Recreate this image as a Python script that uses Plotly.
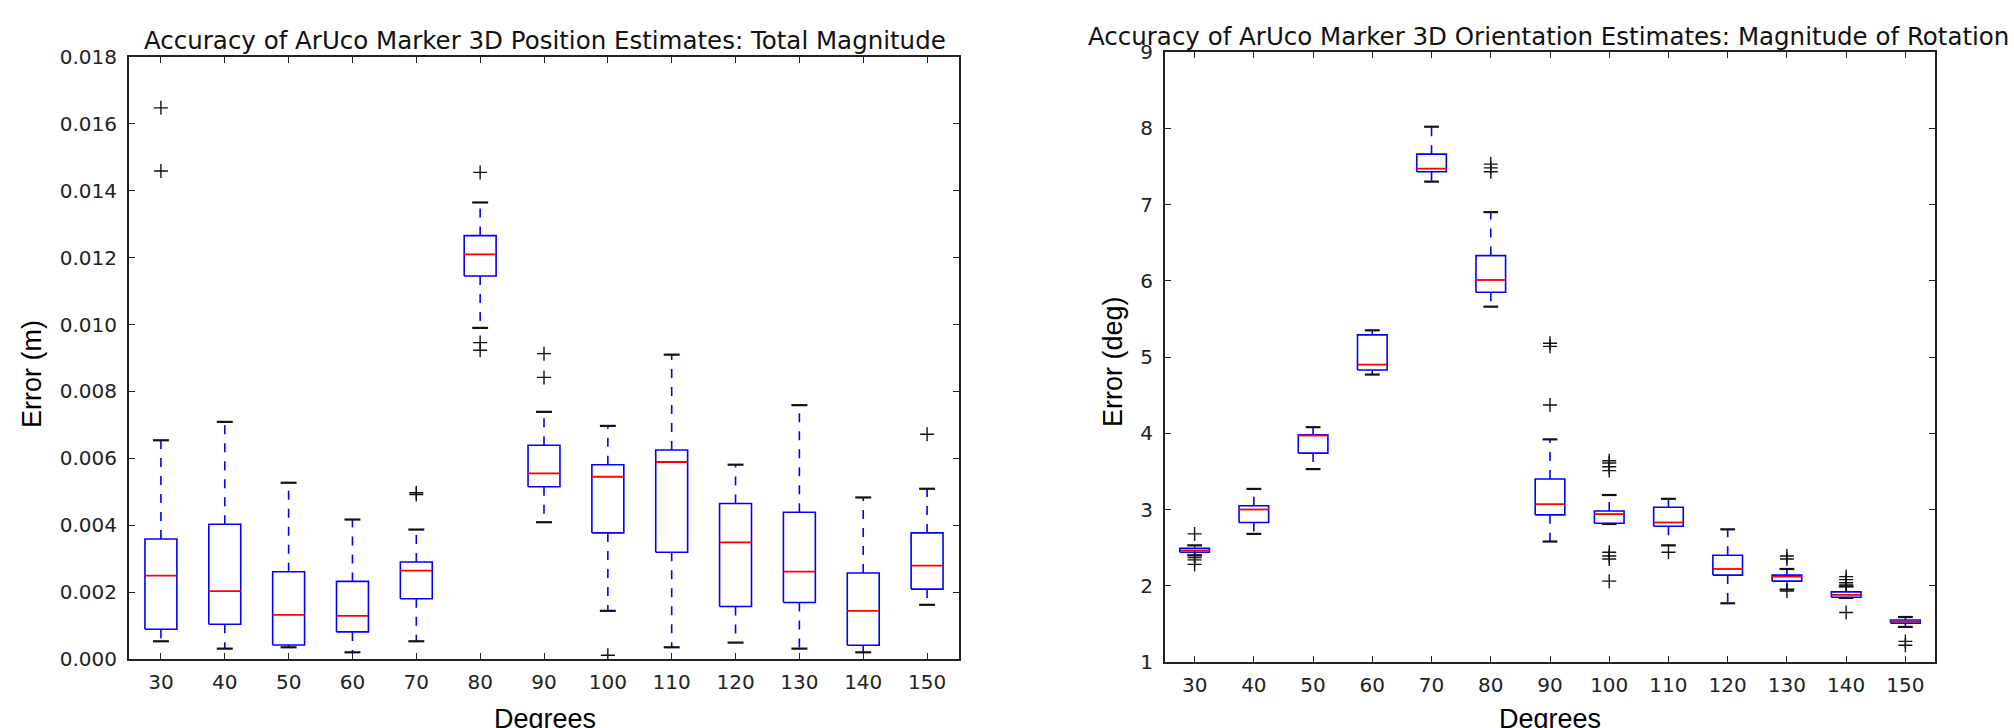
import plotly.graph_objects as go

degrees = [30, 40, 50, 60, 70, 80, 90, 100, 110, 120, 130, 140, 150]

# Position error (m)
pos_lo = [0.00053, 0.00031, 0.00035, 0.00020, 0.00053, 0.00990, 0.00409, 0.00144, 0.00035, 0.00049, 0.00031, 0.00020, 0.00162]
pos_q1 = [0.00089, 0.00104, 0.00042, 0.00081, 0.00180, 0.01145, 0.00515, 0.00377, 0.00319, 0.00157, 0.00169, 0.00041, 0.00209]
pos_med = [0.00249, 0.00203, 0.00132, 0.00129, 0.00264, 0.01210, 0.00555, 0.00545, 0.00589, 0.00349, 0.00261, 0.00144, 0.00279]
pos_q3 = [0.00359, 0.00403, 0.00261, 0.00232, 0.00290, 0.01266, 0.00639, 0.00581, 0.00625, 0.00465, 0.00439, 0.00257, 0.00377]
pos_hi = [0.00654, 0.00709, 0.00527, 0.00417, 0.00387, 0.01365, 0.00739, 0.00697, 0.00910, 0.00581, 0.00759, 0.00483, 0.00509]
pos_out = [[0.01648, 0.01459], [], [], [], [0.00497, 0.00492], [0.01455, 0.00946, 0.00923],
           [0.00913, 0.00842], [0.00011], [], [], [], [], [0.00672]]

# Orientation error (deg)
rot_lo = [2.40, 2.68, 3.53, 4.77, 7.30, 5.66, 2.58, 2.81, 2.53, 1.77, 1.95, 1.84, 1.46]
rot_q1 = [2.44, 2.83, 3.74, 4.83, 7.43, 5.85, 2.93, 2.82, 2.78, 2.14, 2.06, 1.85, 1.51]
rot_med = [2.46, 3.00, 3.97, 4.90, 7.47, 6.01, 3.07, 2.94, 2.83, 2.22, 2.12, 1.88, 1.53]
rot_q3 = [2.49, 3.05, 3.98, 5.29, 7.66, 6.33, 3.40, 2.98, 3.03, 2.40, 2.14, 1.92, 1.55]
rot_hi = [2.53, 3.27, 4.08, 5.35, 8.02, 6.90, 3.92, 3.19, 3.14, 2.74, 2.22, 1.99, 1.59]
rot_out = [[2.68, 2.37, 2.34, 2.28], [], [], [], [], [7.53, 7.48, 7.43],
           [5.18, 5.14, 4.37], [3.64, 3.61, 3.56, 3.51, 2.44, 2.39, 2.35, 2.06], [2.44], [],
           [2.39, 2.35, 1.93], [2.12, 2.08, 2.04, 2.01, 1.65], [1.27, 1.22]]

W = 2014
H = 728
BOX_HALF = 2.5   # half box width in x units (matplotlib widths=0.5)
CAP_HALF = 1.25

fig = go.Figure()


def add_boxes(xa, ya, lo, q1, med, q3, hi, outs):
    bx, by, wx, wy, cx, cy, mx, my, ox, oy = [], [], [], [], [], [], [], [], [], []
    for d, a, b, m, c, e, o in zip(degrees, lo, q1, med, q3, hi, outs):
        bx += [d - BOX_HALF, d + BOX_HALF, d + BOX_HALF, d - BOX_HALF, d - BOX_HALF, None]
        by += [b, b, c, c, b, None]
        wx += [d, d, None, d, d, None]
        wy += [c, e, None, b, a, None]
        cx += [d - CAP_HALF, d + CAP_HALF, None, d - CAP_HALF, d + CAP_HALF, None]
        cy += [e, e, None, a, a, None]
        mx += [d - BOX_HALF, d + BOX_HALF, None]
        my += [m, m, None]
        for v in o:
            ox.append(d)
            oy.append(v)
    common = dict(xaxis=xa, yaxis=ya, showlegend=False, hoverinfo="skip", mode="lines")
    fig.add_trace(go.Scatter(x=wx, y=wy, line=dict(color="#0000ff", width=1.6, dash="9px,9px"), **common))
    fig.add_trace(go.Scatter(x=cx, y=cy, line=dict(color="#111111", width=2.2), **common))
    fig.add_trace(go.Scatter(x=bx, y=by, line=dict(color="#0000ff", width=1.6), **common))
    fig.add_trace(go.Scatter(x=mx, y=my, line=dict(color="#ff0000", width=1.8), **common))
    fig.add_trace(go.Scatter(x=ox, y=oy, mode="markers", xaxis=xa, yaxis=ya, showlegend=False,
                             hoverinfo="skip",
                             marker=dict(symbol="cross-thin", size=10,
                                         line=dict(color="#111111", width=1.4))))


add_boxes("x", "y", pos_lo, pos_q1, pos_med, pos_q3, pos_hi, pos_out)
add_boxes("x2", "y2", rot_lo, rot_q1, rot_med, rot_q3, rot_hi, rot_out)

tickfont = dict(family="DejaVu Sans", size=20, color="#222222")
axis_common = dict(showline=True, linecolor="#222222", linewidth=2, mirror="ticks",
                   ticks="inside", ticklen=6, tickwidth=1.2, tickcolor="#222222",
                   showgrid=False, zeroline=False, tickfont=tickfont, automargin=False)

fig.update_layout(
    width=W, height=H,
    margin=dict(l=0, r=0, t=0, b=0, pad=0, autoexpand=False),
    paper_bgcolor="white", plot_bgcolor="white",
    xaxis=dict(domain=[129 / W, 959 / W], range=[25, 155], tickvals=degrees,
               ticktext=[str(d) for d in degrees], anchor="y", ticklabelstandoff=4, **axis_common),
    yaxis=dict(domain=[1 - 659 / H, 1 - 57 / H], range=[0, 0.018], dtick=0.002, tick0=0,
               tickformat=".3f", anchor="x", ticklabelstandoff=6, **axis_common),
    xaxis2=dict(domain=[1165 / W, 1935 / W], range=[25, 155], tickvals=degrees,
                ticktext=[str(d) for d in degrees], anchor="y2", ticklabelstandoff=4, **axis_common),
    yaxis2=dict(domain=[1 - 662 / H, 1 - 52 / H], range=[1, 9], dtick=1, tick0=1,
                anchor="x2", ticklabelstandoff=6, **axis_common),
)

title_font = dict(family="DejaVu Sans", size=24.5, color="#111111")
label_font = dict(family="Liberation Sans", size=27, color="#000000")

annotations = [
    dict(text="Accuracy of ArUco Marker 3D Position Estimates: Total Magnitude",
         x=545 / W, y=1 - 40 / H, font=title_font),
    dict(text="Accuracy of ArUco Marker 3D Orientation Estimates: Magnitude of Rotation",
         x=1548 / W, y=1 - 36 / H, font=title_font),
    dict(text="Error (m)", x=32 / W, y=1 - 374 / H, textangle=-90, font=label_font),
    dict(text="Error (deg)", x=1113 / W, y=1 - 362 / H, textangle=-90, font=label_font),
    dict(text="Degrees", x=545 / W, y=1 - 719 / H, font=label_font),
    dict(text="Degrees", x=1550 / W, y=1 - 719 / H, font=label_font),
]
for a in annotations:
    fig.add_annotation(xref="paper", yref="paper", showarrow=False,
                       xanchor="center", yanchor="middle", **a)

fig.write_html("out.html",
               config={"displayModeBar": False},
               post_script="document.body.style.margin='0px';document.body.style.overflow='hidden';")
